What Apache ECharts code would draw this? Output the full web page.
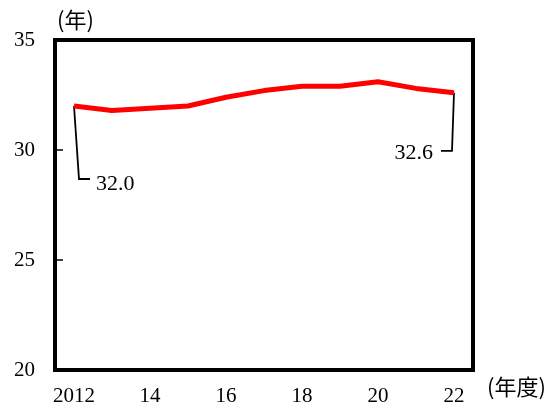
<!DOCTYPE html>
<html>
<head>
<meta charset="utf-8">
<script src="https://cdn.jsdelivr.net/npm/echarts@6/dist/echarts.min.js"></script>
<style>
  html, body { margin: 0; padding: 0; background: #fff; }
  #chart { width: 556px; height: 407px; }
</style>
</head>
<body>
<div id="chart"></div>
<script>
// Fiscal years and average values (years)
const years = ['2012', '13', '14', '15', '16', '17', '18', '19', '20', '21', '22'];
const values = [32.0, 31.8, 31.9, 32.0, 32.4, 32.7, 32.9, 32.9, 33.1, 32.8, 32.6];
const yTicks = [20, 25, 30, 35];
const yUnit = '(年)';
const xUnit = '(年度)';

const numFont = '"Liberation Serif", "DejaVu Serif", serif';
const cjkFont = '"Noto Sans CJK JP", sans-serif';

// Callouts for the first and last values
const lastIdx = values.length - 1;
const callouts = [
  [0, values[0], 'first'],
  [lastIdx, values[lastIdx], 'last']
];

const chart = echarts.init(document.getElementById('chart'));
chart.setOption({
  animation: false,
  backgroundColor: '#fff',
  grid: {
    left: 55, right: 83, top: 40, bottom: 37,
    show: true, borderColor: '#000', borderWidth: 4, backgroundColor: 'transparent'
  },
  xAxis: {
    type: 'category',
    data: years,
    boundaryGap: true,
    axisLine: { show: false },
    axisTick: { show: false },
    axisLabel: {
      interval: 1, margin: 16,
      color: '#000', fontSize: 21, fontFamily: numFont
    }
  },
  yAxis: {
    type: 'value',
    min: yTicks[0], max: yTicks[yTicks.length - 1], interval: yTicks[1] - yTicks[0],
    axisLine: { show: false },
    axisTick: { show: false },
    splitLine: { show: false },
    axisLabel: { margin: 20, color: '#000', fontSize: 21, fontFamily: numFont }
  },
  graphic: [
    { type: 'text', left: 57, top: 9, style: { text: yUnit, font: '22px ' + cjkFont, fill: '#000' } },
    { type: 'text', left: 487, top: 376, style: { text: xUnit, font: '22px ' + cjkFont, fill: '#000' } }
  ],
  series: [
    {
      // short tick marks pointing into the plot from the left frame
      type: 'custom',
      data: yTicks.map(v => [0, v]),
      encode: { x: 0, y: 1 },
      z: 2,
      silent: true,
      renderItem: function (params, api) {
        const y = api.coord([0, api.value(1)])[1];
        const x0 = params.coordSys.x;
        return {
          type: 'line',
          shape: { x1: x0, y1: y, x2: x0 + 8, y2: y },
          style: { stroke: '#000', lineWidth: 1.5 }
        };
      }
    },
    {
      type: 'custom',
      data: callouts,
      encode: { x: 0, y: 1 },
      z: 1,
      renderItem: function (params, api) {
        const p = api.coord([api.value(0), api.value(1)]);
        const first = callouts[params.dataIndex][2] === 'first';
        const label = api.value(1).toFixed(1);
        if (first) {
          const b = [p[0] + 5, p[1] + 73];
          return {
            type: 'group',
            children: [
              { type: 'polyline', shape: { points: [p, b, [b[0] + 11, b[1]]] },
                style: { stroke: '#000', lineWidth: 1.8, fill: null } },
              { type: 'text', style: { text: label, x: b[0] + 17, y: b[1] + 5, font: '22px ' + numFont,
                fill: '#000', textAlign: 'left', textVerticalAlign: 'middle' } }
            ]
          };
        }
        const b = [p[0] - 2, p[1] + 58];
        return {
          type: 'group',
          children: [
            { type: 'polyline', shape: { points: [p, b, [b[0] - 11, b[1]]] },
              style: { stroke: '#000', lineWidth: 1.8, fill: null } },
            { type: 'text', style: { text: label, x: b[0] - 19, y: b[1] + 2, font: '22px ' + numFont,
              fill: '#000', textAlign: 'right', textVerticalAlign: 'middle' } }
          ]
        };
      }
    },
    {
      type: 'line',
      data: values,
      z: 3,
      symbol: 'none',
      lineStyle: { color: '#ff0000', width: 5 },
      itemStyle: { color: '#ff0000' }
    }
  ]
});
</script>
</body>
</html>
